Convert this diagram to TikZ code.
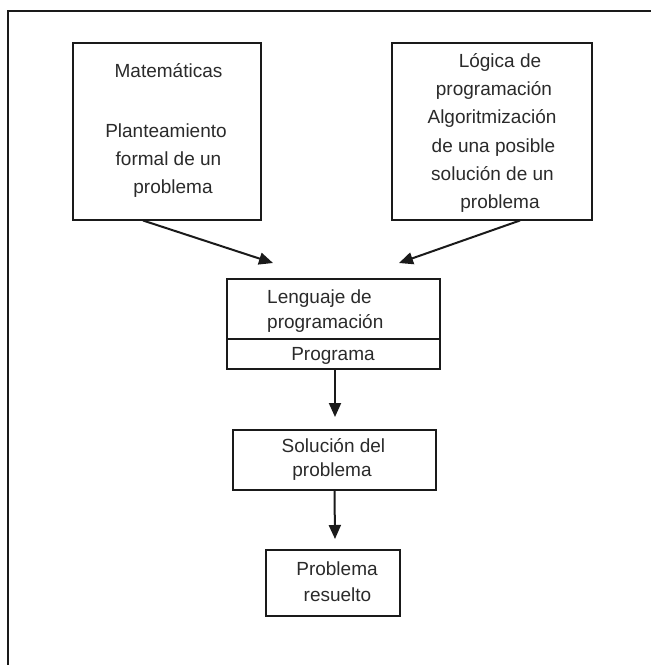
\documentclass[tikz,border=0pt]{standalone}
\usepackage{fontspec}
\setmainfont{Liberation Sans}
\usetikzlibrary{arrows.meta,calc}
\definecolor{ink}{HTML}{1A1A1A}
\definecolor{txtc}{HTML}{2A2A2A}
\begin{document}
\begin{tikzpicture}[x=1pt,y=-1pt,
  box/.style={draw=ink, line width=2pt, inner sep=0pt},
  txt/.style={font=\fontsize{19}{28}\selectfont, inner sep=0pt, text=txtc, anchor=base},
  arr/.style={draw=ink, line width=2pt, -{Triangle[length=14pt,width=12pt]}}]
\useasboundingbox (0,0) rectangle (651,665);
\draw[draw=ink, line width=2.5pt] (8,665) -- (8,11) -- (651,11);

% boxes
\node[box, minimum width=188pt, minimum height=177pt] (mat) at (167,131) {};
\node[box, minimum width=200pt, minimum height=177pt] (log) at (492,131) {};
\node[box, minimum width=213pt, minimum height=90pt] (len) at (333.5,324) {};
\draw[draw=ink, line width=2pt] ($(len.west)+(0,15)$) coordinate (lsplitw) -- (lsplitw -| len.east) coordinate (lsplite);
\node[box, minimum width=203pt, minimum height=60pt] (sol) at (334.5,460) {};
\node[box, minimum width=134pt, minimum height=66pt] (pro) at (333,583) {};

% texts
\node[txt] (m1) at (168.5,77) {Matemáticas};
\node[txt] (m2) at (166,137) {Planteamiento};
\node[txt] (m3) at (168.5,165) {formal de un};
\node[txt] (m4) at (173,193) {problema};

\node[txt] (l1) at (500,67) {Lógica de};
\node[txt] (l2) at (494,95) {programación};
\node[txt] (l3) at (492,123) {Algoritmización};
\node[txt] (l4) at (493.5,152) {de una posible};
\node[txt] (l5) at (492.5,180) {solución de un};
\node[txt] (l6) at (500,208) {problema};

\node[txt, anchor=base west] (g1) at (267,303) {Lenguaje de};
\node[txt, anchor=base west] (g2) at (267,328) {programación};
\node[txt] (g3) at (333,360) {Programa};

\node[txt] (s1) at (333.5,452) {Solución del};
\node[txt] (s2) at (332,476) {problema};

\node[txt] (p1) at (337,575) {Problema};
\node[txt] (p2) at (337.5,601) {resuelto};

% connectors
\coordinate (a1s) at ($(mat.south)+(-24,0)$);
\coordinate (a1e) at (273,263);
\coordinate (a2s) at ($(log.south)+(28,0)$);
\coordinate (a2e) at (399,263);
\draw[arr] (a1s) -- (a1e);
\draw[arr] (a2s) -- (a2e);

\coordinate (v1s) at ($(len.south)+(1.5,0)$);
\coordinate (v1e) at (335,417);
\coordinate (v2s) at (sol.south);
\coordinate (v2e) at (335,539);
\draw[arr] (v1s) -- (v1e);
\draw[arr] (v2s) -- (v2e);
\end{tikzpicture}
\end{document}
